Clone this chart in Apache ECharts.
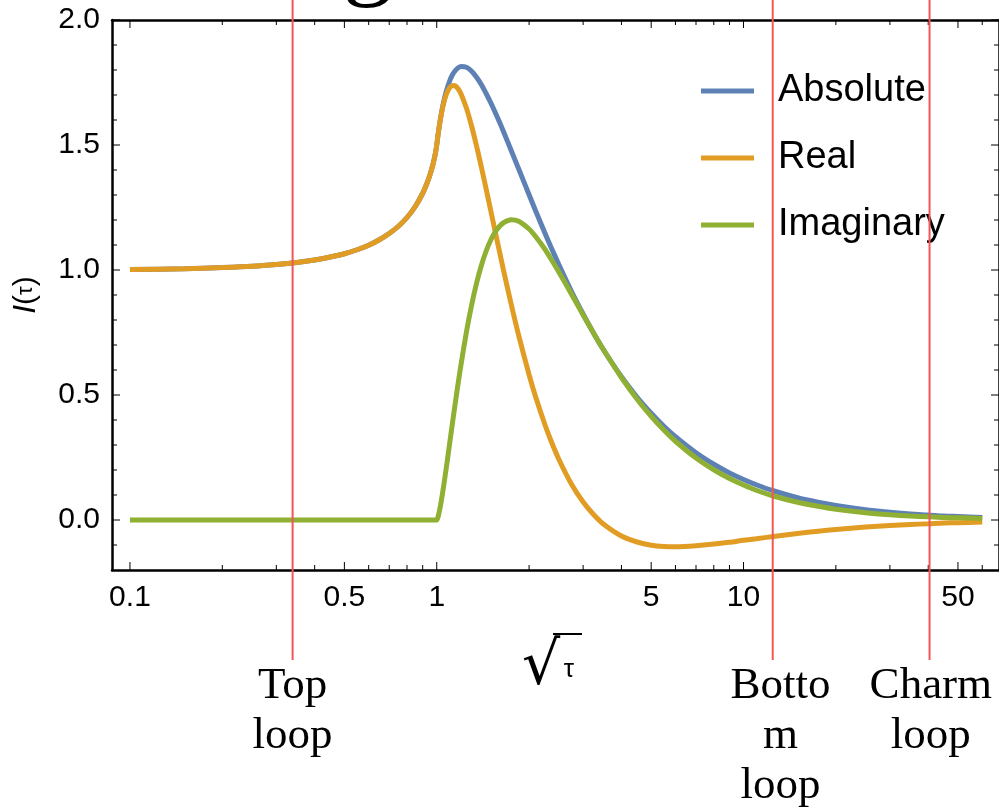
<!DOCTYPE html>
<html>
<head>
<meta charset="utf-8">
<script src="https://cdn.jsdelivr.net/npm/echarts@6/dist/echarts.min.js"></script>
<style>
html,body{margin:0;padding:0;background:#fff;}
#chart{width:999px;height:812px;}
</style>
</head>
<body>
<div id="chart"></div>
<script>
// ---- data (sqrt(tau) and loop-function values) ----
const sqrtTau = [0.1, 0.15, 0.2, 0.25, 0.3, 0.35, 0.4, 0.45, 0.5, 0.55, 0.6, 0.65, 0.7, 0.75, 0.8, 0.85, 0.9, 0.93, 0.95, 0.97, 0.98, 0.99, 1.0,
  1.01, 1.02, 1.03, 1.05, 1.075, 1.1, 1.125, 1.15, 1.175, 1.2,
  1.25, 1.3, 1.35, 1.4, 1.45, 1.5, 1.55, 1.6, 1.65, 1.75,
  1.85, 2.0, 2.1, 2.25, 2.35, 2.5, 2.75, 3, 3.25, 3.5,
  4, 4.5, 5, 5.5, 6, 7, 8, 9, 10, 11,
  12.5, 15, 17.5, 20, 25, 30, 35, 40, 45, 50, 60];
const absoluteVals = [1.002, 1.005, 1.010, 1.015, 1.022, 1.030, 1.040, 1.052, 1.065, 1.081, 1.099, 1.121, 1.146, 1.175, 1.210, 1.253, 1.307, 1.348, 1.380, 1.418, 1.441, 1.467, 1.500,
  1.541, 1.578, 1.611, 1.665, 1.716, 1.754, 1.781, 1.798, 1.809, 1.814,
  1.811, 1.795, 1.770, 1.740, 1.705, 1.669, 1.631, 1.593, 1.554, 1.477,
  1.404, 1.301, 1.237, 1.149, 1.095, 1.022, 0.914, 0.824, 0.746, 0.680,
  0.573, 0.491, 0.427, 0.375, 0.333, 0.269, 0.223, 0.188, 0.162, 0.141,
  0.117, 0.089, 0.071, 0.058, 0.041, 0.031, 0.024, 0.020, 0.016, 0.014, 0.010];
const realVals = [1.002, 1.005, 1.010, 1.015, 1.022, 1.030, 1.040, 1.052, 1.065, 1.081, 1.099, 1.121, 1.146, 1.175, 1.210, 1.253, 1.307, 1.348, 1.380, 1.418, 1.441, 1.467, 1.500,
  1.541, 1.578, 1.609, 1.660, 1.703, 1.728, 1.738, 1.736, 1.724, 1.704,
  1.647, 1.574, 1.493, 1.408, 1.322, 1.237, 1.155, 1.076, 1.000, 0.861,
  0.738, 0.581, 0.493, 0.383, 0.321, 0.243, 0.143, 0.072, 0.021, -0.017,
  -0.064, -0.088, -0.101, -0.106, -0.107, -0.103, -0.096, -0.089, -0.081, -0.075,
  -0.066, -0.054, -0.045, -0.038, -0.028, -0.022, -0.018, -0.015, -0.012, -0.011, -0.008];
const imagVals = [0, 0, 0, 0, 0, 0, 0, 0, 0, 0, 0, 0, 0, 0, 0, 0, 0, 0, 0, 0, 0, 0, 0,
  0.013, 0.035, 0.062, 0.125, 0.211, 0.300, 0.387, 0.470, 0.549, 0.622,
  0.753, 0.861, 0.950, 1.021, 1.077, 1.120, 1.152, 1.174, 1.189, 1.201,
  1.195, 1.164, 1.134, 1.084, 1.047, 0.992, 0.903, 0.820, 0.746, 0.680,
  0.570, 0.483, 0.415, 0.360, 0.315, 0.248, 0.201, 0.166, 0.140, 0.119,
  0.096, 0.071, 0.055, 0.043, 0.029, 0.021, 0.016, 0.013, 0.010, 0.009, 0.006];
const seriesNames = ['Absolute', 'Real', 'Imaginary'];

const loopPositions = [0.339, 12.45, 40.4];
const loopLabelPositions = [0.339, 13.2, 40.8];
const loopLabels = ['Top\nloop', 'Botto\nm\nloop', 'Charm\nloop'];

const xMajorTicks = [0.1, 0.5, 1, 5, 10, 50];
const xTickLabels = ['0.1', '0.5', '1', '5', '10', '50'];
const xMinorTicks = [0.2, 0.3, 0.4, 0.6, 0.7, 0.8, 0.9, 2, 3, 4, 6, 7, 8, 9, 20, 30, 40, 60];
const yMajorTicks = [0, 0.5, 1, 1.5, 2];
const yMinorTicks = [-0.1, 0.1, 0.2, 0.3, 0.4, 0.6, 0.7, 0.8, 0.9, 1.1, 1.2, 1.3, 1.4, 1.6, 1.7, 1.8, 1.9];

// ---- axis ranges ----
const X_MIN = 0.08739, X_MAX = 68.04;
const Y_MIN = -0.2, Y_MAX = 2.0;
const LINE_TOP = 2.08, LINE_BOTTOM = -0.56;

const colors = ['#5E81B5', '#E19C24', '#8FB032'];
const SANS = '"Liberation Sans", Arial, sans-serif';
const SERIF = '"Liberation Serif", "Times New Roman", serif';

const chart = echarts.init(document.getElementById('chart'));

const tickData = [];
xMajorTicks.forEach(v => tickData.push([v, Y_MIN, 0, 1]));
xMinorTicks.forEach(v => tickData.push([v, Y_MIN, 0, 0]));
yMajorTicks.forEach(v => tickData.push([X_MIN, v, 1, 1]));
yMinorTicks.forEach(v => tickData.push([X_MIN, v, 1, 0]));

function tickRender(params, api) {
  const kind = api.value(2), major = api.value(3);
  const len = major ? 8 : 5;
  const st = {stroke: '#000', lineWidth: 1};
  const bl = api.coord([X_MIN, Y_MIN]);
  const tr = api.coord([X_MAX, Y_MAX]);
  if (kind === 0) {
    const x = api.coord([api.value(0), Y_MIN])[0];
    return {type: 'group', children: [
      {type: 'line', shape: {x1: x, y1: bl[1], x2: x, y2: bl[1] - len}, style: st},
      {type: 'line', shape: {x1: x, y1: tr[1], x2: x, y2: tr[1] + len}, style: st}
    ]};
  } else {
    const y = api.coord([X_MIN, api.value(1)])[1];
    return {type: 'group', children: [
      {type: 'line', shape: {x1: bl[0], y1: y, x2: bl[0] + len, y2: y}, style: st},
      {type: 'line', shape: {x1: tr[0], y1: y, x2: tr[0] - len, y2: y}, style: st}
    ]};
  }
}

const xLabelData = xMajorTicks.map((v, i) => [v, Y_MIN, i]);
function xLabelRender(params, api) {
  const p = api.coord([api.value(0), Y_MIN]);
  return {type: 'text', x: p[0], y: p[1] + 13, style: {
    text: xTickLabels[api.value(2)], font: '30px ' + SANS, fill: '#000', align: 'center', verticalAlign: 'top'}};
}

const loopData = loopPositions.map((v, i) => [v, LINE_TOP, i]);
function loopRender(params, api) {
  const i = api.value(2);
  const x = api.coord([api.value(0), 0])[0];
  const y1 = api.coord([X_MIN, LINE_TOP])[1];
  const y2 = api.coord([X_MIN, LINE_BOTTOM])[1];
  const lx = api.coord([loopLabelPositions[i], 0])[0];
  return {type: 'group', children: [
    {type: 'line', shape: {x1: x, y1: y1, x2: x, y2: y2}, style: {stroke: '#F25757', lineWidth: 2}},
    {type: 'text', x: lx, y: y2 + 1, style: {text: loopLabels[i], font: '45px ' + SERIF, lineHeight: 50,
      fill: '#000', align: 'center', verticalAlign: 'top'}}
  ]};
}

const lineSeries = [absoluteVals, realVals, imagVals].map((vals, k) => ({
  name: seriesNames[k], type: 'line', symbol: 'none', smooth: 0.25,
  data: sqrtTau.map((x, i) => [x, vals[i]]),
  lineStyle: {color: colors[k], width: 5}, itemStyle: {color: colors[k]}, z: 3 + k
}));

const option = {
  animation: false,
  backgroundColor: '#fff',
  grid: {left: 112, top: 20, width: 890, height: 550, containLabel: false},
  xAxis: [
    {type: 'log', min: X_MIN, max: X_MAX, axisLine: {show: true, onZero: false, lineStyle: {color: '#000', width: 2.5}},
      axisTick: {show: false}, axisLabel: {show: false}, splitLine: {show: false}, minorTick: {show: false}},
    {type: 'log', position: 'top', min: X_MIN, max: X_MAX, axisLine: {show: true, onZero: false, lineStyle: {color: '#000', width: 2.5}},
      axisTick: {show: false}, axisLabel: {show: false}, splitLine: {show: false}}
  ],
  yAxis: [
    {type: 'value', min: Y_MIN, max: Y_MAX, interval: 0.1, axisLine: {show: true, onZero: false, lineStyle: {color: '#000', width: 2.5}},
      axisTick: {show: false}, splitLine: {show: false},
      axisLabel: {margin: 12, fontSize: 30, fontFamily: SANS, color: '#000',
        formatter: v => Math.abs(v * 2 - Math.round(v * 2)) < 1e-6 ? (Math.abs(v) < 1e-9 ? '0.0' : v.toFixed(1)) : ''}},
    {type: 'value', position: 'right', min: Y_MIN, max: Y_MAX, interval: 0.1, axisLine: {show: true, onZero: false, lineStyle: {color: '#000', width: 2.5}},
      axisTick: {show: false}, splitLine: {show: false}, axisLabel: {show: false}}
  ],
  legend: {
    data: seriesNames, orient: 'vertical', left: 696, top: 67, itemWidth: 53, itemHeight: 5, icon: 'rect',
    itemGap: 29, textStyle: {fontSize: 38, lineHeight: 38, fontFamily: SANS, color: '#000', padding: [0, 0, 0, 19]}
  },
  series: [
    ...lineSeries,
    {type: 'custom', name: 'ticks', renderItem: tickRender, data: tickData, z: 8, silent: true},
    {type: 'custom', name: 'xlabels', renderItem: xLabelRender, data: xLabelData, z: 8, silent: true},
    {type: 'custom', name: 'loops', renderItem: loopRender, data: loopData, z: 10, silent: true}
  ],
  graphic: [
    {type: 'text', x: 26, y: 295, rotation: Math.PI / 2, style: {
      text: '{i|I}{p|(}{t|τ}{p|)}', align: 'center', verticalAlign: 'middle', fill: '#000',
      rich: {i: {fontStyle: 'italic', fontSize: 32, fontFamily: SANS}, p: {fontSize: 30, fontFamily: SANS},
             t: {fontSize: 22, fontFamily: SANS}}}},
    {type: 'text', x: 541, y: 668, style: {text: '√', font: '60px "DejaVu Sans", sans-serif', fill: '#000', align: 'center', verticalAlign: 'middle'}},
    {type: 'line', shape: {x1: 553, y1: 634, x2: 582, y2: 634}, style: {stroke: '#000', lineWidth: 2}},
    {type: 'text', x: 569, y: 670, style: {text: 'τ', font: '26px ' + SANS, fill: '#000', align: 'center', verticalAlign: 'middle'}},
    {type: 'text', x: 368, y: 11, style: {text: 'g', font: '100px ' + SERIF, fill: '#000', align: 'center', verticalAlign: 'bottom'}}
  ]
};
chart.setOption(option);
</script>
</body>
</html>
